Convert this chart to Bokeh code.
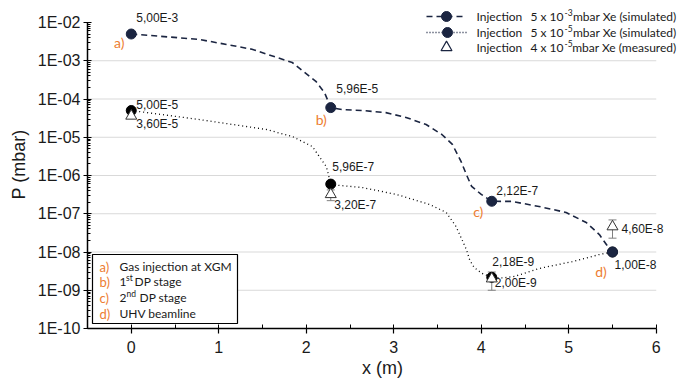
from bokeh.plotting import figure
from bokeh.models import (Range1d, FixedTicker, SingleIntervalTicker, CustomJSTickFormatter,
                          Whisker, TeeHead, ColumnDataSource, Label, BoxAnnotation)
from bokeh.core.properties import value
from bokeh.embed import file_html
from bokeh.resources import INLINE

# ---------------- data ----------------
x_stations = [0.0, 2.28, 4.12, 5.5]
p_sim_high = [5.00e-3, 5.96e-5, 2.12e-7, 1.00e-8]
p_sim_low = [5.00e-5, 5.96e-7, 2.18e-9, 1.00e-8]
p_meas = [3.60e-5, 3.20e-7, 2.00e-9, 4.60e-8]
p_meas_err = [0.5e-5, 1.0e-7, 1.0e-9, 2.3e-8]
station_tags = ["a)", "b)", "c)", "d)"]
station_names = [("Gas injection at XGM", "", ""), ("1", "st", "DP stage"),
                 ("2", "nd", "DP stage"), ("UHV beamline", "", "")]
legend_entries = [("Injection", "5 x 10", "-3", "mbar Xe (simulated)"),
                  ("Injection", "5 x 10", "-5", "mbar Xe (simulated)"),
                  ("Injection", "4 x 10", "-5", "mbar Xe (measured)")]

profile_high_x = [0.0, 0.21, 0.78, 1.38, 1.84, 2.11, 2.21, 2.28,
                  2.41, 2.64, 2.91, 3.14, 3.37, 3.55, 3.67, 3.77, 3.83, 3.89, 4.00, 4.12,
                  4.35, 4.66, 4.97, 5.20, 5.35, 5.43, 5.5]
profile_high_p = [5.0e-3, 4.6e-3, 3.6e-3, 2.0e-3, 9.0e-4, 2.9e-4, 1.45e-4, 5.96e-5,
                  5.3e-5, 5.0e-5, 4.4e-5, 3.3e-5, 2.15e-5, 1.18e-5, 6.5e-6, 2.3e-6, 1.06e-6, 5.2e-7, 3.2e-7, 2.12e-7,
                  2.1e-7, 1.55e-7, 1.08e-7, 5.9e-8, 2.86e-8, 1.57e-8, 1.0e-8]
profile_low_x = [0.0, 0.09, 0.78, 1.54, 1.84, 2.07, 2.23, 2.28,
                 2.38, 2.64, 3.03, 3.41, 3.60, 3.71, 3.78, 3.83, 3.87, 3.92, 4.01, 4.12,
                 4.25, 4.38, 4.66, 5.04, 5.35, 5.5]
profile_low_p = [5.0e-5, 4.7e-5, 2.9e-5, 1.6e-5, 1.05e-5, 5.7e-6, 1.7e-6, 5.96e-7,
                 5.5e-7, 4.85e-7, 3.2e-7, 1.75e-7, 1.08e-7, 4.7e-8, 2.1e-8, 1.16e-8, 6.0e-9, 3.9e-9, 2.75e-9, 2.18e-9,
                 2.1e-9, 2.3e-9, 3.7e-9, 5.6e-9, 8.6e-9, 1.0e-8]

y_tick_exponents = list(range(-10, -1))      # 1E-10 ... 1E-02
x_tick_values = [0, 1, 2, 3, 4, 5, 6]


def fmt_value(v):
    m, e = f"{v:.2e}".split("e")
    return f"{m.replace('.', ',')}E{int(e)}"


# ---------------- layout ----------------
OFF = 1                      # observed page offset of the figure
W, H = 680 - OFF, 382 - OFF
BL, BR, BT, BB = 88 - OFF, 2, 0, 53
PX_PER_X = 87.5
PX_PER_DEC = 38.25
FW, FH = W - BL - BR, H - BT - BB
X0 = x_tick_values[0] - 0.5
Y0_EXP = y_tick_exponents[0]
FRAME_L, FRAME_B = OFF + BL, OFF + BT + FH


def dx(px):  # page pixel -> data x (for decorations)
    return X0 + (px - FRAME_L) / PX_PER_X


def dy(py):  # page pixel -> data y (for decorations)
    return 10 ** (Y0_EXP + (FRAME_B - py) / PX_PER_DEC)


NAVY = "#1B2541"
ORANGE = "#ED7D31"
GRID = "#D9D9D9"
ERR = "#808080"
TXT = "#1a1a1a"
NUM_FONT = "Liberation Sans"
LEG_FONT = "Lato"
LEG_SIZE = "12px"

p = figure(width=W, height=H,
           x_range=Range1d(X0, X0 + FW / PX_PER_X),
           y_range=Range1d(10 ** Y0_EXP, 10 ** (Y0_EXP + FH / PX_PER_DEC)),
           y_axis_type="log", output_backend="svg", toolbar_location=None,
           min_border_left=BL, min_border_right=BR, min_border_top=BT, min_border_bottom=BB)
p.outline_line_color = None
p.xgrid.visible = False
p.ygrid.visible = False
p.background_fill_color = "white"

# gridlines
grid_vals = [10.0 ** e for e in y_tick_exponents[1:-1]]
p.segment(x0=[X0] * len(grid_vals), x1=[x_tick_values[-1]] * len(grid_vals),
          y0=grid_vals, y1=grid_vals, line_color=GRID, line_width=1, level="underlay")

# axes
p.xaxis.ticker = SingleIntervalTicker(interval=1, num_minor_ticks=2)
p.xaxis.bounds = (X0, x_tick_values[-1])
p.yaxis.ticker = FixedTicker(ticks=[10.0 ** e for e in y_tick_exponents],
                             minor_ticks=[m * 10.0 ** e for e in y_tick_exponents[:-1] for m in range(2, 10)])
p.yaxis.bounds = (10.0 ** y_tick_exponents[0], 10.0 ** y_tick_exponents[-1])
p.yaxis.formatter = CustomJSTickFormatter(
    code="const e = Math.round(Math.log10(tick)); return '1E-' + String(-e).padStart(2, '0');")
p.xaxis.axis_label = "x (m)"
p.yaxis.axis_label = "P (mbar)"
for ax in (p.xaxis, p.yaxis):
    ax.axis_line_color = "black"
    ax.axis_line_width = 1.5
    ax.major_tick_line_color = "black"
    ax.minor_tick_line_color = "black"
    ax.major_tick_line_width = 1.2
    ax.major_label_text_font = NUM_FONT
    ax.major_label_text_font_size = "16px"
    ax.major_label_text_color = TXT
    ax.axis_label_text_font = NUM_FONT
    ax.axis_label_text_font_size = "18px"
    ax.axis_label_text_font_style = "normal"
    ax.axis_label_text_color = TXT
p.xaxis.major_tick_out = 5
p.xaxis.major_tick_in = 0
p.xaxis.minor_tick_out = 0
p.xaxis.minor_tick_in = 4
p.xaxis.major_label_standoff = 7
p.xaxis.axis_label_standoff = 2
p.yaxis.major_tick_out = 4
p.yaxis.major_tick_in = 4
p.yaxis.minor_tick_out = 0
p.yaxis.minor_tick_in = 3
p.yaxis.major_label_standoff = 3
p.yaxis.axis_label_standoff = 6

# simulated profiles
p.line(profile_low_x, profile_low_p, line_color="black", line_width=1.3, line_dash="1 3")
p.line(profile_high_x, profile_high_p, line_color=NAVY, line_width=1.6, line_dash="6 4")

# error bars
err_src = ColumnDataSource(dict(x=x_stations,
                                upper=[v + e for v, e in zip(p_meas, p_meas_err)],
                                lower=[v - e for v, e in zip(p_meas, p_meas_err)]))
p.add_layout(Whisker(base="x", upper="upper", lower="lower", source=err_src,
                     line_color=ERR, line_width=1,
                     upper_head=TeeHead(size=8, line_color=ERR, line_width=1),
                     lower_head=TeeHead(size=8, line_color=ERR, line_width=1)))

# points
p.scatter(x_stations, p_sim_low, size=10, color="black")
p.scatter(x_stations, p_sim_high, size=10, color=NAVY)
p.scatter(x_stations, p_meas, marker="triangle", size=11, fill_color="white",
          line_color="#333333", line_width=1)

# value labels (anchored on their data point, offset in px)
series = {"high": p_sim_high, "low": p_sim_low, "meas": p_meas}
lab_refs = [("high", 0), ("high", 1), ("high", 2), ("high", 3),
            ("low", 0), ("low", 1), ("low", 2),
            ("meas", 0), ("meas", 1), ("meas", 2), ("meas", 3)]
lab_dx = [5, 5.5, 4.5, 2, 5, 1.5, 0.5, 5, 3.5, 3, 9]
lab_dy = [-16.5, -19, -10, 12.5, -6, -16.6, -15, 8.5, 11, 4.5, 2]
p.text(x=[x_stations[i] for s, i in lab_refs],
       y=[series[s][i] for s, i in lab_refs],
       text=[fmt_value(series[s][i]) for s, i in lab_refs],
       x_offset=lab_dx, y_offset=lab_dy,
       text_font=value(NUM_FONT), text_font_size="12px", text_color=TXT,
       text_align="left", text_baseline="middle")

# orange station tags
p.text(x=x_stations, y=p_sim_high, text=station_tags,
       x_offset=[-12, -9.5, -13.5, -11.5], y_offset=[8.5, 12, 10, 19.5],
       text_font=value(LEG_FONT), text_font_size="14px", text_color=ORANGE,
       text_align="center", text_baseline="middle")

# ---------- top-right legend ----------
leg_rows = [17, 33, 48]
p.line([dx(427), dx(466)], [dy(leg_rows[0])] * 2, line_color=NAVY, line_width=1.6, line_dash="6 4")
p.scatter([dx(447)], [dy(leg_rows[0])], size=10, color=NAVY)
p.line([dx(427), dx(468)], [dy(leg_rows[1])] * 2, line_color=NAVY, line_width=1.3, line_dash="1 2")
p.scatter([dx(448)], [dy(leg_rows[1])], size=10, color=NAVY)
p.scatter([dx(447)], [dy(leg_rows[2])], marker="triangle", size=11, fill_color="white",
          line_color=NAVY, line_width=1.2)
for row, (w1, w2, sup, rest) in zip(leg_rows, legend_entries):
    p.add_layout(Label(x=dx(477), y=dy(row), text=w1, text_font=LEG_FONT, text_font_size=LEG_SIZE,
                       text_color=TXT, text_baseline="middle", text_align="left"))
    p.add_layout(Label(x=dx(564), y=dy(row), text=w2, text_font=LEG_FONT, text_font_size=LEG_SIZE,
                       text_color=TXT, text_baseline="middle", text_align="right"))
    p.add_layout(Label(x=dx(565), y=dy(row - 4), text=sup, text_font=LEG_FONT, text_font_size="8.5px",
                       text_color=TXT, text_baseline="middle", text_align="left"))
    p.add_layout(Label(x=dx(677), y=dy(row), text=rest, text_font=LEG_FONT, text_font_size=LEG_SIZE,
                       text_color=TXT, text_baseline="middle", text_align="right"))

# ---------- bottom-left key box ----------
p.add_layout(BoxAnnotation(left=dx(93), right=dx(238), top=dy(255), bottom=dy(324),
                           fill_color="white", fill_alpha=1, line_color="black",
                           line_alpha=1, line_width=1.2))
box_rows = [267, 282, 298, 314]
sup_x = [None, 126.5, 127, None]
rest_x = [None, 135, 140, None]
for i, (row, tag, (a, sup, rest)) in enumerate(zip(box_rows, station_tags, station_names)):
    p.add_layout(Label(x=dx(100), y=dy(row), text=tag, text_font=LEG_FONT, text_font_size="13px",
                       text_color=ORANGE, text_baseline="middle", text_align="left"))
    p.add_layout(Label(x=dx(120), y=dy(row), text=a, text_font=LEG_FONT, text_font_size=LEG_SIZE,
                       text_color=TXT, text_baseline="middle", text_align="left"))
    if sup:
        p.add_layout(Label(x=dx(sup_x[i]), y=dy(row - 4), text=sup, text_font=LEG_FONT,
                           text_font_size="8.5px", text_color=TXT, text_baseline="middle",
                           text_align="left"))
        p.add_layout(Label(x=dx(rest_x[i]), y=dy(row), text=rest, text_font=LEG_FONT,
                           text_font_size=LEG_SIZE, text_color=TXT, text_baseline="middle",
                           text_align="left"))

open("out.html", "w").write(file_html(p, INLINE))
